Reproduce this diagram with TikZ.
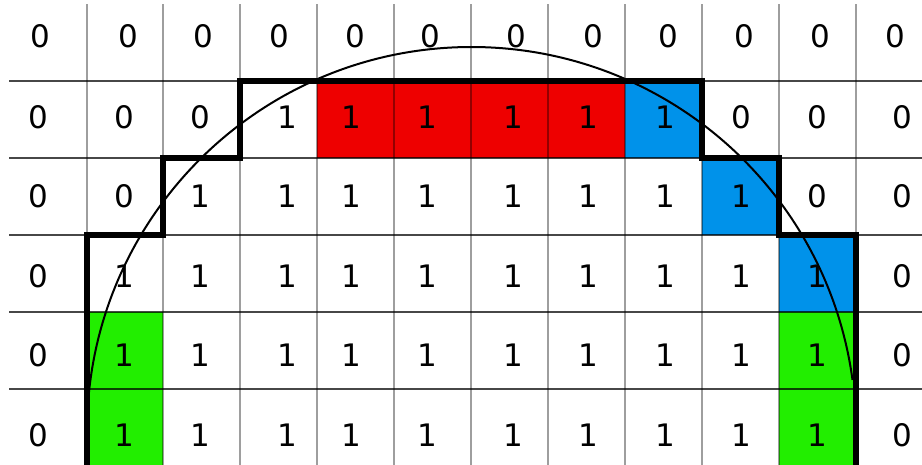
\documentclass[tikz,border=0pt]{standalone}
\usepackage{fontspec}
\setmainfont{DejaVu Sans}
\definecolor{cellred}{HTML}{EE0000}
\definecolor{cellblue}{HTML}{0092EA}
\definecolor{cellgreen}{HTML}{22EE00}

\begin{document}
\begin{tikzpicture}[
    x=1pt, y=1pt,
    digit/.style={font=\fontsize{31}{37}\selectfont, text=black, inner sep=0pt},
    hline/.style={draw=black, draw opacity=0.72, line width=1.1pt},
    vline/.style={draw=black, draw opacity=0.38, line width=1.1pt},
    border/.style={line width=5.2pt, line join=miter},
    circ/.style={line width=2pt}
]
\useasboundingbox (0,0) rectangle (922,-464);

% coloured cells
\fill[cellred] (317,-81) rectangle (625,-158);
\fill[cellblue] (625,-81) rectangle (702,-158);
\fill[cellblue] (702,-158) rectangle (779,-235);
\fill[cellblue] (779,-235) rectangle (856,-312);
\fill[cellgreen] (87,-312) rectangle (163,-466);
\fill[cellgreen] (779,-312) rectangle (856,-466);

% grid
\foreach \y in {81,158,235,312,389}
    \draw[hline] (9,-\y) -- (922,-\y);
\foreach \x in {87,163,240,317,394,471,548,625,702,779,856}
    \draw[vline] (\x,-4) -- (\x,-466);

% digits
\foreach \vals [count=\r] in {
        {0,0,0,0,0,0,0,0,0,0,0,0},
        {0,0,0,1,1,1,1,1,1,0,0,0},
        {0,0,1,1,1,1,1,1,1,1,0,0},
        {0,1,1,1,1,1,1,1,1,1,1,0},
        {0,1,1,1,1,1,1,1,1,1,1,0},
        {0,1,1,1,1,1,1,1,1,1,1,0}} {
    \foreach \v [count=\c] in \vals {
        \pgfmathsetmacro\ypos{{36,117,196.5,276,355,435}[\r-1]}
        \ifnum\r=1
            \pgfmathsetmacro\xpos{{40,128,203,279,355,430,516,593,668,744,820,895}[\c-1]}
        \else
            \pgfmathsetmacro\xpos{{38,124,200,287,351,427,513,588,665,741,817,902}[\c-1]}
        \fi
        \node (d-\r-\c) [digit] at (\xpos,-\ypos) {\v};
    }
}

% rim of the region
\draw[border] (87,-468) -- (87,-235) -- (163,-235) -- (163,-158)
    -- (240,-158) -- (240,-81) -- (702,-81) -- (702,-158)
    -- (779,-158) -- (779,-235) -- (856,-235) -- (856,-468);

% circle
\draw[circ] (87,-431.5) arc[start angle=180, end angle=7.7, radius=384.5];

\end{tikzpicture}
\end{document}
